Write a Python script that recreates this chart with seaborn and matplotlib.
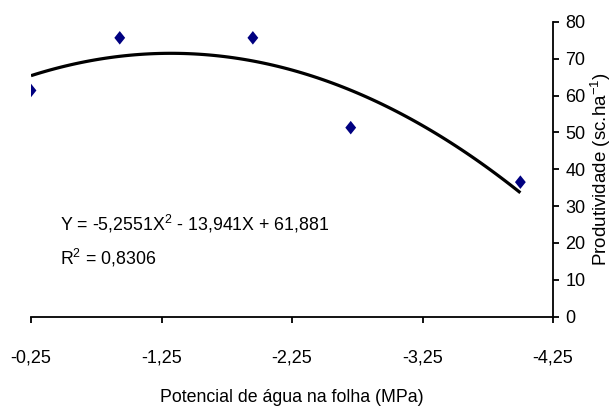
import matplotlib
matplotlib.use("Agg")
import matplotlib.pyplot as plt
import seaborn as sns
import numpy as np
import pandas as pd

# Data
potencial = [-0.25, -0.93, -1.95, -2.70, -4.00]
produtividade = [61.4, 75.7, 75.7, 51.3, 36.5]
xtick_values = [-0.25, -1.25, -2.25, -3.25, -4.25]
xtick_labels = ["-0,25", "-1,25", "-2,25", "-3,25", "-4,25"]
ytick_values = [0, 10, 20, 30, 40, 50, 60, 70, 80]
equation_text = "Y = -5,2551X$^{2}$ - 13,941X + 61,881"
r2_text = "R$^{2}$ = 0,8306"

df = pd.DataFrame({"potencial": potencial, "produtividade": produtividade})

sns.set_theme(style="white")
plt.rcParams["font.family"] = ["Liberation Sans", "DejaVu Sans"]
plt.rcParams["mathtext.fontset"] = "custom"
plt.rcParams["mathtext.rm"] = "Liberation Sans"
plt.rcParams["mathtext.it"] = "Liberation Sans"
plt.rcParams["mathtext.default"] = "rm"

fig = plt.figure(figsize=(6.13, 4.07), dpi=100)
ax = fig.add_axes([31 / 613, 1 - 316.5 / 407, (553 - 31) / 613, (316.5 - 22) / 407])

sns.regplot(data=df, x="potencial", y="produtividade", order=2, ci=None,
            scatter=False, truncate=True,
            line_kws=dict(color="black", lw=2.3, solid_capstyle="butt"), ax=ax)
diamond = [(0, 1), (0.8, 0), (0, -1), (-0.8, 0), (0, 1)]
sns.scatterplot(data=df, x="potencial", y="produtividade", marker=diamond,
                color="#000080", s=95, edgecolor="none", linewidth=0, ax=ax, zorder=5)

ax.set_xlim(-0.25, -4.25)
ax.set_ylim(0, 80)
ax.set_xticks(xtick_values)
ax.set_xticklabels(xtick_labels)
ax.set_yticks(ytick_values)
ax.yaxis.tick_right()
ax.yaxis.set_label_position("right")

for s in ["left", "top"]:
    ax.spines[s].set_visible(False)
for s in ["bottom", "right"]:
    ax.spines[s].set_visible(True)
    ax.spines[s].set_color("black")
    ax.spines[s].set_linewidth(1.3)

ax.tick_params(axis="x", direction="out", length=4, width=1.3, pad=20,
               labelsize=13, colors="black", bottom=True)
ax.tick_params(axis="y", direction="out", length=4, width=1.3, pad=5,
               labelsize=13, colors="black", right=True, left=False)

ax.set_xlabel("Potencial de água na folha (MPa)", fontsize=12.8, labelpad=16,
              color="black")
ax.set_ylabel("Produtividade (sc.ha$^{-1}$)", fontsize=13.5, labelpad=2,
              color="black")

ax.text(-0.47, 25.2, equation_text, fontsize=12.8, color="black",
        va="center", ha="left")
ax.text(-0.47, 15.9, r2_text, fontsize=12.8, color="black",
        va="center", ha="left")

fig.savefig("out.png", dpi=100)
